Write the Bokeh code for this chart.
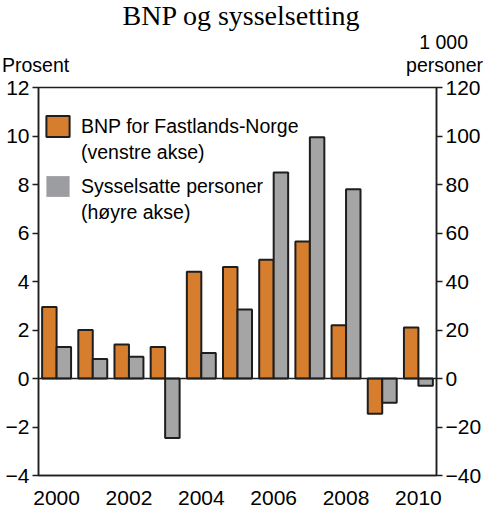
from bokeh.plotting import figure
from bokeh.layouts import column
from bokeh.models import (ColumnDataSource, Range1d, LinearAxis, FixedTicker, Span,
                          Legend, LegendItem, Div)
from bokeh.transform import dodge
from bokeh.embed import file_html
from bokeh.resources import INLINE

# ---- data ----
years = [2000, 2001, 2002, 2003, 2004, 2005, 2006, 2007, 2008, 2009, 2010]
bnp_fastland = [2.95, 2.0, 1.4, 1.3, 4.4, 4.6, 4.9, 5.65, 2.2, -1.45, 2.1]       # prosent, venstre akse
sysselsatte = [13, 8, 9, -24.5, 10.5, 28.5, 85, 99.5, 78, -10, -3]               # 1000 personer, høyre akse
left_ticks = [-4, -2, 0, 2, 4, 6, 8, 10, 12]
right_ticks = [-40, -20, 0, 20, 40, 60, 80, 100, 120]
year_ticks = [2000, 2002, 2004, 2006, 2008, 2010]

title_text = "BNP og sysselsetting"
left_unit = "Prosent"
right_unit_1 = "1 000"
right_unit_2 = "personer"
label_bnp = ["BNP for Fastlands-Norge", "(venstre akse)"]
label_syss = ["Sysselsatte personer", "(høyre akse)"]

ORANGE = "#d67d2e"
GREY_BAR = "#a5a5a5"
GREY_LEG = "#9b9da1"
DARK = "#1e1e1e"
SANS = "Liberation Sans"
SERIF = "Liberation Serif"

W = 484
HEAD_H = 77
MAIN_H = 436

# ---- header with title and axis units (HTML text) ----
span_sans = ("position:absolute;white-space:nowrap;line-height:1.15;font-family:'%s';"
             "font-size:19.5px;color:black;" % SANS)
head_html = (
    '<div style="position:relative;width:%dpx;height:%dpx;margin:0;padding:0;">' % (W, HEAD_H)
    + '<span style="position:absolute;white-space:nowrap;line-height:1.15;left:241px;top:0px;'
      "transform:translateX(-50%%);font-family:'%s';font-size:28px;color:black;\">%s</span>"
      % (SERIF, title_text)
    + '<span style="%sleft:2px;top:54px;">%s</span>' % (span_sans, left_unit)
    + '<span style="%sright:16px;top:31px;">%s</span>' % (span_sans, right_unit_1)
    + '<span style="%sright:1px;top:54px;">%s</span>' % (span_sans, right_unit_2)
    + '</div>'
)
head = Div(text=head_html, width=W, height=HEAD_H, margin=0)

# ---- main chart ----
src = ColumnDataSource(dict(year=years, bnp=bnp_fastland, syss=sysselsatte))

p = figure(width=W, height=MAIN_H, output_backend="svg", toolbar_location=None,
           x_range=Range1d(1999.5, 2010.5), y_range=Range1d(-4, 12),
           min_border_left=38, min_border_right=44, min_border_top=10, min_border_bottom=38,
           background_fill_color="white", border_fill_color="white")
p.extra_y_ranges = {"right": Range1d(-40, 120)}
p.xgrid.visible = False
p.ygrid.visible = False
p.outline_line_color = DARK
p.outline_line_width = 1.5

def style_axis(ax, ticks, tick_out=6, standoff=3):
    ax.ticker = FixedTicker(ticks=ticks)
    ax.major_tick_out = tick_out
    ax.major_tick_in = 0
    ax.minor_tick_line_color = None
    ax.major_tick_line_color = DARK
    ax.major_tick_line_width = 1.5
    ax.axis_line_color = DARK
    ax.axis_line_width = 1.5
    ax.major_label_text_font = SANS
    ax.major_label_text_font_size = "21px"
    ax.major_label_text_color = "black"
    ax.major_label_standoff = standoff

style_axis(p.yaxis[0], left_ticks)
style_axis(p.xaxis[0], year_ticks, tick_out=0, standoff=15)
p.xaxis[0].major_tick_line_color = None

right_axis = LinearAxis(y_range_name="right")
style_axis(right_axis, right_ticks)
p.add_layout(right_axis, "right")

r_bnp = p.vbar(x=dodge("year", -0.2, range=p.x_range), top="bnp", width=0.4, source=src,
               fill_color=ORANGE, line_color=DARK, line_width=2)
r_syss = p.vbar(x=dodge("year", 0.2, range=p.x_range), top="syss", width=0.4, source=src,
                y_range_name="right", fill_color=GREY_BAR, line_color=DARK, line_width=2)

p.add_layout(Span(location=0, dimension="width", line_color=DARK, line_width=1.5))

# legend proxies (zero-size, invisible on the chart)
proxy_grey = p.vbar(x="year", top=0, width=0, source=src, fill_color=GREY_LEG, line_color=None)
blank = p.vbar(x="year", top=0, width=0, source=src, fill_alpha=0, line_alpha=0)

def make_legend(items, loc):
    return Legend(items=items, location=loc, orientation="vertical",
                  glyph_width=29, glyph_height=26, label_standoff=9, spacing=-3,
                  label_height=20, padding=0, margin=0, border_line_alpha=0,
                  background_fill_alpha=0, label_text_font=SANS,
                  label_text_font_size="19.5px", label_text_color="black")

leg1 = make_legend([LegendItem(label=label_bnp[0], renderers=[r_bnp]),
                    LegendItem(label=label_bnp[1], renderers=[blank])], (5, 310))
leg2 = make_legend([LegendItem(label=label_syss[0], renderers=[proxy_grey]),
                    LegendItem(label=label_syss[1], renderers=[blank])], (5, 250))
p.add_layout(leg1)
p.add_layout(leg2)

layout = column(head, p, spacing=0)
open("out.html", "w").write(file_html(layout, INLINE))
